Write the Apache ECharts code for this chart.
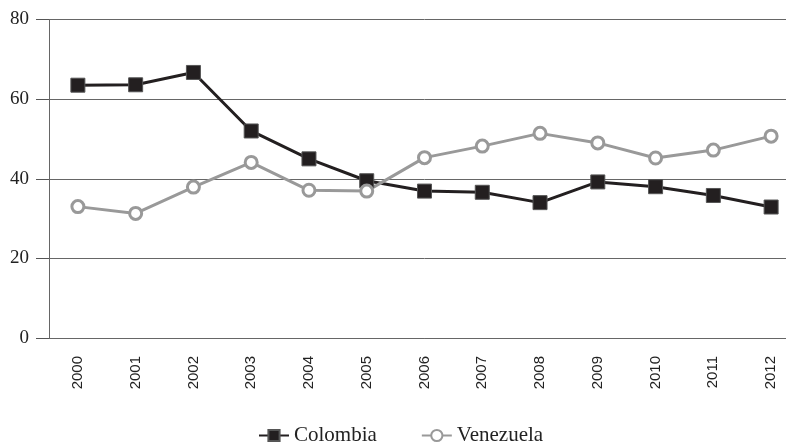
<!DOCTYPE html>
<html><head><meta charset="utf-8">
<script src="https://cdn.jsdelivr.net/npm/echarts@6/dist/echarts.min.js"></script>
<style>html,body{margin:0;padding:0;background:#fff;overflow:hidden}#c{width:800px;height:444px}</style>
</head><body><div id="c"></div>
<script>
const years = ['2000','2001','2002','2003','2004','2005','2006','2007','2008','2009','2010','2011','2012'];
const colombia = [63.5, 63.6, 66.7, 52.0, 45.0, 39.5, 36.9, 36.6, 34.0, 39.2, 38.0, 35.8, 32.9];
const venezuela = [33.0, 31.3, 37.9, 44.1, 37.1, 36.9, 45.3, 48.2, 51.4, 49.0, 45.2, 47.2, 50.7];
const yTicks = [0, 20, 40, 60, 80];

const chart = echarts.init(document.getElementById('c'), null, {renderer:'canvas'});
chart.setOption({
  animation: false,
  backgroundColor: '#fff',
  grid: {left: 49, top: 19.5, right: 0, height: 318.5},
  legend: {
    top: 420, left: 253, itemWidth: 30, itemHeight: 14, itemGap: 44,
    textStyle: {fontFamily: 'Liberation Serif', fontSize: 21, color: '#222'},
    data: ['Colombia', 'Venezuela']
  },
  xAxis: {
    type: 'category', data: years, boundaryGap: true,
    axisLine: {lineStyle: {color: '#666', width: 1}},
    axisTick: {length: 13, lineStyle: {color: '#555'}},
    axisLabel: {rotate: 90, margin: 18, fontFamily: 'Liberation Sans', fontSize: 15, color: '#222'}
  },
  yAxis: {
    type: 'value', min: yTicks[0], max: yTicks[yTicks.length-1], interval: 20,
    axisLine: {show: true, lineStyle: {color: '#666', width: 1}},
    axisTick: {show: true, length: 13, lineStyle: {color: '#555'}},
    splitLine: {lineStyle: {color: '#666', width: 1}},
    axisLabel: {margin: 20, fontFamily: 'Liberation Serif', fontSize: 19, color: '#222'}
  },
  series: [
    {name: 'Colombia', type: 'line', data: colombia, symbol: 'rect', symbolSize: 14,
     lineStyle: {color: '#231f20', width: 3}, itemStyle: {color: '#231f20', borderColor: '#555', borderWidth: 1}},
    {name: 'Venezuela', type: 'line', data: venezuela, symbol: 'circle', symbolSize: 12,
     lineStyle: {color: '#999', width: 3}, itemStyle: {color: '#fff', borderColor: '#999', borderWidth: 3}}
  ]
});
</script></body></html>
